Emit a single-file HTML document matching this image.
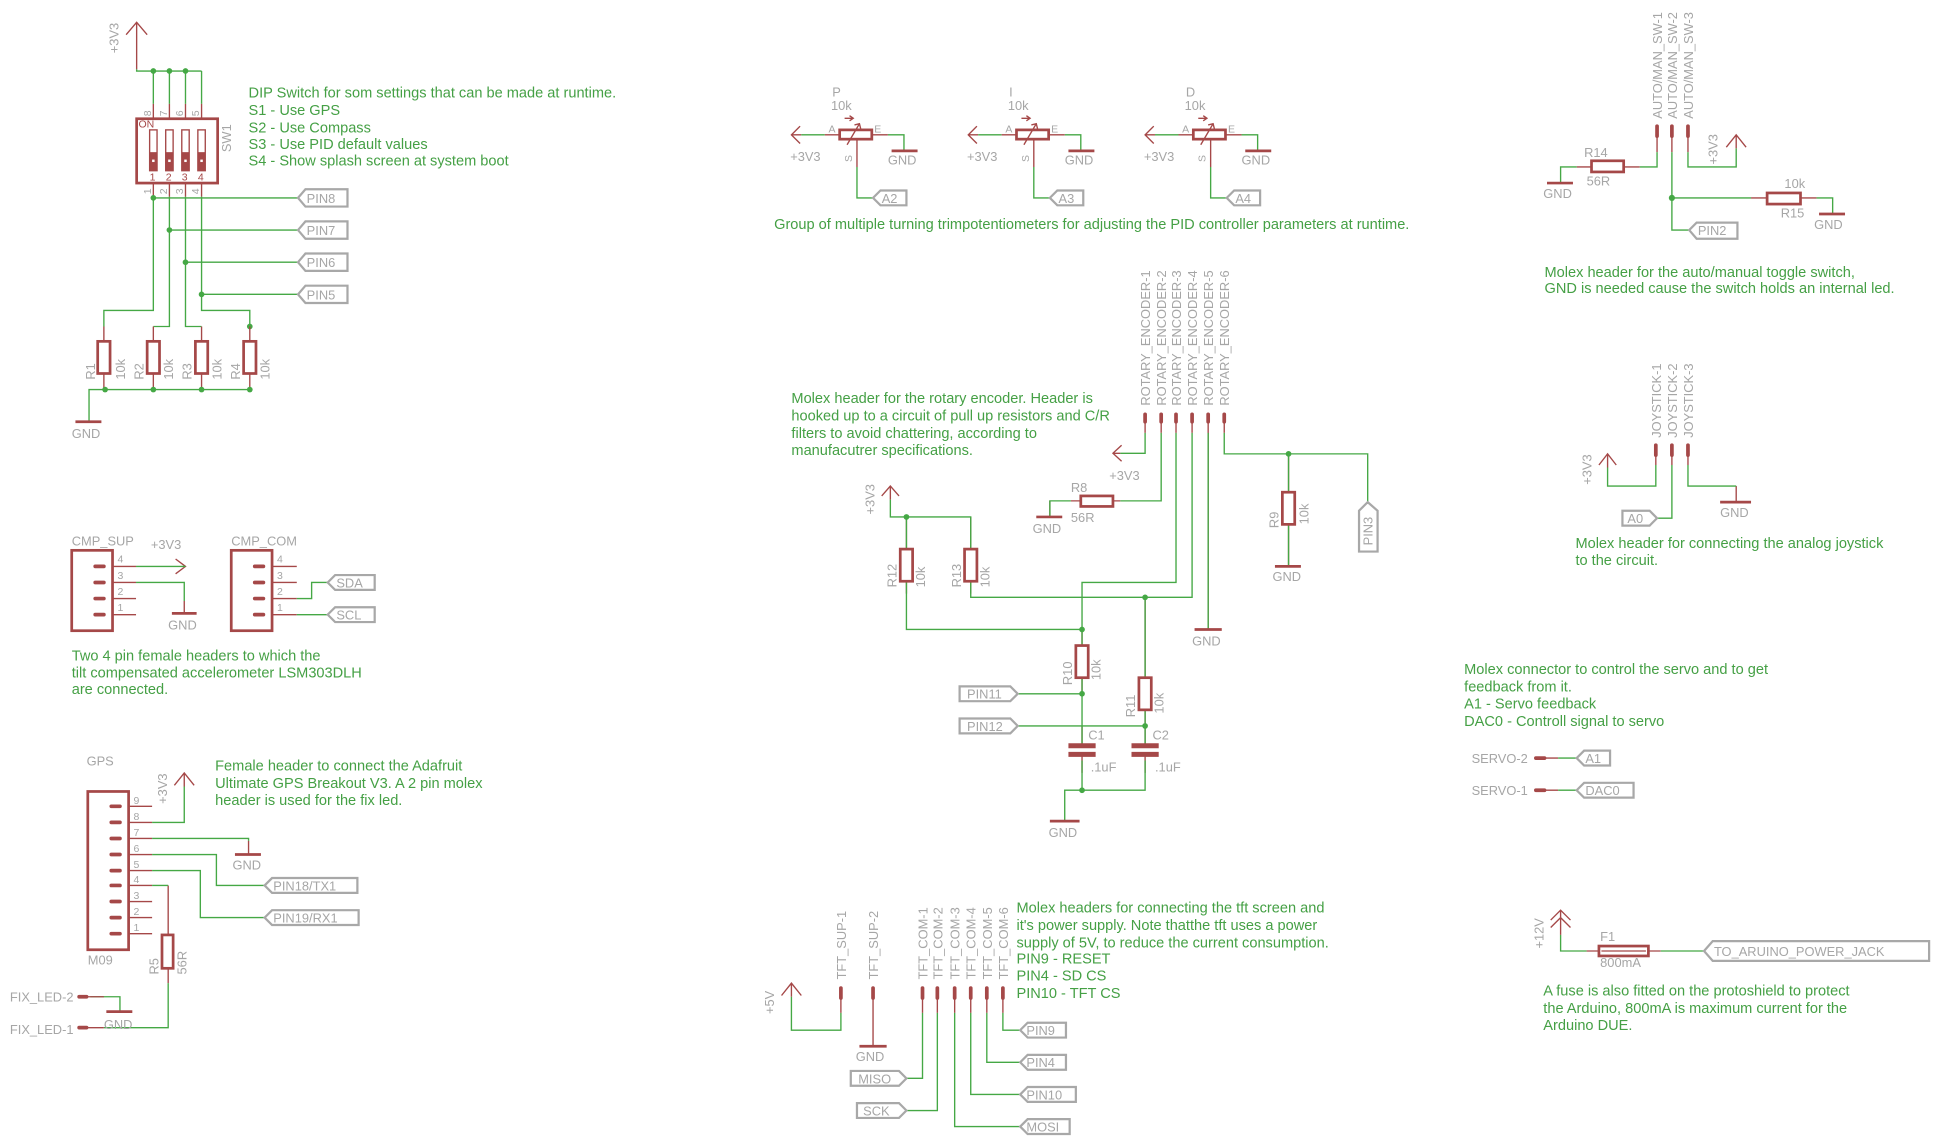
<!DOCTYPE html>
<html><head><meta charset="utf-8"><style>
html,body{margin:0;padding:0;background:#fff;width:1939px;height:1139px;overflow:hidden}
svg{display:block}
text{font-family:"Liberation Sans",Arial,sans-serif;font-size:10.4px;fill:#a6a6a6}
.c{fill:#45a045;font-size:11.8px}
.r{fill:#a54848}
.w{stroke:#45a845;stroke-width:1.1;fill:none}
.p{stroke:#a54848;stroke-width:1.1;fill:none}
.b{stroke:#a54848;stroke-width:2.2;fill:none}
.h{stroke:#a54848;stroke-width:3;stroke-linecap:round;fill:none}
.l{stroke:#a8a8a8;stroke-width:1.8;fill:none}
.j{fill:#45a845}
.s{font-size:8.5px}
</style></head><body>
<svg width="1939" height="1139" viewBox="0 0 1568 921" xmlns="http://www.w3.org/2000/svg">

<!-- ================= DIP SWITCH ================= -->
<path class="p" d="M110.5 18 V56 M102 28 L110.5 18 L119 28"/>
<text transform="translate(96,43) rotate(-90)">+3V3</text>
<path class="w" d="M110.5 56 V57.4 H163 M124 57.4 V84 M137 57.4 V84 M150 57.4 V84 M163 57.4 V84"/>
<path class="p" d="M124 84 V96 M137 84 V96 M150 84 V96 M163 84 V96"/>
<circle class="j" cx="124" cy="57.4" r="2.3"/><circle class="j" cx="137" cy="57.4" r="2.3"/><circle class="j" cx="150" cy="57.4" r="2.3"/>
<rect class="b" x="110.5" y="96" width="65.5" height="52"/>
<text class="r s" x="112" y="103">ON</text>
<g>
<rect class="p" x="121" y="105" width="6" height="33"/><rect x="121" y="123" width="6" height="15" fill="#a54848"/>
<rect class="p" x="134" y="105" width="6" height="33"/><rect x="134" y="123" width="6" height="15" fill="#a54848"/>
<rect class="p" x="147" y="105" width="6" height="33"/><rect x="147" y="123" width="6" height="15" fill="#a54848"/>
<rect class="p" x="160" y="105" width="6" height="33"/><rect x="160" y="123" width="6" height="15" fill="#a54848"/>
<rect x="123" y="129" width="2" height="2" fill="#fff"/><rect x="136" y="129" width="2" height="2" fill="#fff"/><rect x="149" y="129" width="2" height="2" fill="#fff"/><rect x="162" y="129" width="2" height="2" fill="#fff"/>
</g>
<text class="r s" x="121" y="146">1</text><text class="r s" x="134" y="146">2</text><text class="r s" x="147" y="146">3</text><text class="r s" x="160" y="146">4</text>
<text transform="translate(187,123) rotate(-90)">SW1</text>
<text class="s" transform="translate(122,94) rotate(-90)">8</text>
<text class="s" transform="translate(135,94) rotate(-90)">7</text>
<text class="s" transform="translate(148,94) rotate(-90)">6</text>
<text class="s" transform="translate(161,94) rotate(-90)">5</text>
<text class="s" transform="translate(122,157) rotate(-90)">1</text>
<text class="s" transform="translate(135,157) rotate(-90)">2</text>
<text class="s" transform="translate(148,157) rotate(-90)">3</text>
<text class="s" transform="translate(161,157) rotate(-90)">4</text>
<path class="p" d="M124 148 V159 M137 148 V159 M150 148 V159 M163 148 V159"/>
<path class="w" d="M124 159 V251 H84 V264 M137 159 V264 H124 M150 159 V264 H163 M163 159 V251 H202 V264 M124 160 H241 M137 186 H241 M150 212 H241 M163 238 H241"/>
<circle class="j" cx="124" cy="160" r="2.3"/><circle class="j" cx="137" cy="186" r="2.3"/><circle class="j" cx="150" cy="212" r="2.3"/><circle class="j" cx="163" cy="238" r="2.3"/><circle class="j" cx="202" cy="264" r="2.3"/>
<path class="l" d="M241 160 L247 153 H281 V167 H247 Z M241 186 L247 179 H281 V193 H247 Z M241 212 L247 205 H281 V219 H247 Z M241 238 L247 231 H281 V245 H247 Z"/>
<text x="248" y="164">PIN8</text><text x="248" y="190">PIN7</text><text x="248" y="216">PIN6</text><text x="248" y="242">PIN5</text>
<path class="p" d="M84 264 V276 M124 264 V276 M163 264 V276 M202 264 V276 M84 302 V315 M124 302 V315 M163 302 V315 M202 302 V315"/>
<rect class="b" x="79" y="276" width="10" height="26"/><rect class="b" x="119" y="276" width="10" height="26"/><rect class="b" x="158" y="276" width="10" height="26"/><rect class="b" x="197" y="276" width="10" height="26"/>
<text transform="translate(77,307) rotate(-90)">R1</text><text transform="translate(101,307) rotate(-90)">10k</text>
<text transform="translate(116,307) rotate(-90)">R2</text><text transform="translate(140,307) rotate(-90)">10k</text>
<text transform="translate(155,307) rotate(-90)">R3</text><text transform="translate(179,307) rotate(-90)">10k</text>
<text transform="translate(194,307) rotate(-90)">R4</text><text transform="translate(218,307) rotate(-90)">10k</text>
<path class="w" d="M72 341 V315 H202"/>
<circle class="j" cx="85" cy="315" r="2.3"/><circle class="j" cx="124" cy="315" r="2.3"/><circle class="j" cx="163" cy="315" r="2.3"/><circle class="j" cx="202" cy="315" r="2.3"/>
<path class="b" d="M61 341 H82"/><text x="58" y="354">GND</text>
<text class="c" x="201" y="79">DIP Switch for som settings that can be made at runtime.</text>
<text class="c" x="201" y="93">S1 - Use GPS</text>
<text class="c" x="201" y="107">S2 - Use Compass</text>
<text class="c" x="201" y="120.5">S3 - Use PID default values</text>
<text class="c" x="201" y="134">S4 - Show splash screen at system boot</text>

<!-- ================= TRIMPOTS ================= -->
<g id="pot">
<path class="p" d="M647 102 L640 109 L647 116 M640 109 H648"/>
<path class="w" d="M648 109 H667 M718 109 H731 V122 M693 135 V160 H706"/>
<path class="p" d="M667 109 H679 M705 109 H718 M693 112 V135 M685 117 L695 100 M691 101 L695 100 L696 104 M683 95.6 H690 M687 93.5 L690 95.6 L687 97.7"/>
<rect class="b" x="679" y="105" width="26" height="7.5"/>
<path class="b" d="M721 122 H742"/>
<text x="639" y="130">+3V3</text><text x="718" y="133">GND</text>
<text class="s" x="670" y="107">A</text><text class="s" x="707" y="107">E</text>
<text class="s" transform="translate(689,131) rotate(-90)">S</text>
<path class="l" d="M706 160 L712 154 H733 V166 H712 Z"/>
</g>
<text x="673" y="78">P</text><text x="672" y="89">10k</text><text x="713" y="164">A2</text>
<use href="#pot" transform="translate(143,0)"/>
<text x="816" y="78">I</text><text x="815" y="89">10k</text><text x="856" y="164">A3</text>
<use href="#pot" transform="translate(286,0)"/>
<text x="959" y="78">D</text><text x="958" y="89">10k</text><text x="999" y="164">A4</text>
<text class="c" x="626" y="185">Group of multiple turning trimpotentiometers for adjusting the PID controller parameters at runtime.</text>

<!-- ================= AUTO/MAN ================= -->
<text transform="translate(1344,96) rotate(-90)">AUTO/MAN_SW-1</text>
<text transform="translate(1356,96) rotate(-90)">AUTO/MAN_SW-2</text>
<text transform="translate(1369,96) rotate(-90)">AUTO/MAN_SW-3</text>
<path class="h" d="M1340 102 V110 M1352 102 V110 M1365 102 V110"/>
<path class="p" d="M1340 110 V123 M1352 110 V123 M1365 110 V123 M1326 135 H1313 M1287 135 H1275 M1416 160 H1429 M1456 160 H1469 M1396 119 L1404 109 L1412 119 M1404 109 V120"/>
<path class="w" d="M1340 123 V135 H1326 M1275 135 H1262 V148 M1352 123 V186 H1366 M1352 160 H1416 M1469 160 H1482 V173 M1365 123 V135 H1404 V120"/>
<rect class="b" x="1287" y="130" width="26" height="9"/><rect class="b" x="1429" y="156" width="27" height="9"/>
<path class="b" d="M1251 148 H1272 M1471 173 H1492"/>
<circle class="j" cx="1352" cy="160" r="2.5"/>
<text x="1281" y="127">R14</text><text x="1283" y="150">56R</text><text x="1248" y="160">GND</text>
<text x="1443" y="152">10k</text><text x="1440" y="176">R15</text><text x="1467" y="185">GND</text>
<text transform="translate(1389,133) rotate(-90)">+3V3</text>
<path class="l" d="M1366 186 L1372 180 H1405 V193 H1372 Z"/><text x="1373" y="190">PIN2</text>
<text class="c" x="1249" y="224">Molex header for the auto/manual toggle switch,</text>
<text class="c" x="1249" y="237">GND is needed cause the switch holds an internal led.</text>

<!-- ================= ROTARY ENCODER ================= -->
<text transform="translate(930,328) rotate(-90)">ROTARY_ENCODER-1</text>
<text transform="translate(943,328) rotate(-90)">ROTARY_ENCODER-2</text>
<text transform="translate(955,328) rotate(-90)">ROTARY_ENCODER-3</text>
<text transform="translate(968,328) rotate(-90)">ROTARY_ENCODER-4</text>
<text transform="translate(981,328) rotate(-90)">ROTARY_ENCODER-5</text>
<text transform="translate(994,328) rotate(-90)">ROTARY_ENCODER-6</text>
<path class="h" d="M926 335 V341 M939 335 V341 M951 335 V341 M964 335 V341 M977 335 V341 M990 335 V341"/>
<path class="p" d="M926 341 V350 M939 341 V350 M951 341 V350 M964 341 V350 M977 341 V350 M990 341 V350 M907 360 L900 366.5 L907 373 M900 366.5 H906 M874 405 H866 M900 405 H906 M713 401 L720 393 L727 401 M720 393 V404 M733 418 V444 M733 470 V480 M785 418 V444 M785 470 V480 M875 509 V522 M875 548 V561 M926 483 V548 M926 574 V587 M1042 367 V398 M1042 424 V458 M849 405 V418 M977 350 V509 M875 587 V603 M926 587 V603 M875 609 V625 M926 609 V625"/>
<path class="w" d="M926 350 V366.5 H906 M939 350 V405 H906 M866 405 H849 V418 M720 404 V418 H785 V444 M733 418 V444 M733 470 V509 H875 M785 470 V483 H964 V350 M951 350 V471 H875 V522 M875 548 V603 M926 483 V548 M926 574 V603 M823 561 H875 M823 587 H926 M875 615 V639 H926 V615 M875 639 H861 V664 M990 350 V367 H1106 V406 M1042 367 V398 M1042 424 V458 M977 350 V509"/>
<rect class="b" x="874" y="401" width="26" height="8.5"/>
<rect class="b" x="728" y="444" width="10" height="26"/><rect class="b" x="780" y="444" width="10" height="26"/>
<rect class="b" x="870" y="522" width="10" height="26"/><rect class="b" x="921" y="548" width="10" height="26"/>
<rect class="b" x="1037" y="398" width="10" height="26"/>
<path d="M864 601 H886 V605 H864 Z M864 608 H886 V612 H864 Z M915 601 H937 V605 H915 Z M915 608 H937 V612 H915 Z" fill="#a54848"/>
<path class="b" d="M838 418 H859 M966 509 H988 M1031 458 H1052 M849 664 H873"/>
<circle class="j" cx="733" cy="418" r="2.3"/><circle class="j" cx="875" cy="509" r="2.3"/><circle class="j" cx="926" cy="483" r="2.3"/>
<circle class="j" cx="875" cy="561" r="2.3"/><circle class="j" cx="926" cy="587" r="2.3"/><circle class="j" cx="875" cy="639" r="2.3"/><circle class="j" cx="1042" cy="367" r="2.3"/>
<text x="897" y="388">+3V3</text>
<text x="866" y="398">R8</text><text x="866" y="422">56R</text><text x="835" y="431">GND</text>
<text transform="translate(707,416) rotate(-90)">+3V3</text>
<text transform="translate(725,475) rotate(-90)">R12</text><text transform="translate(748,475) rotate(-90)">10k</text>
<text transform="translate(777,475) rotate(-90)">R13</text><text transform="translate(800,475) rotate(-90)">10k</text>
<text transform="translate(867,554) rotate(-90)">R10</text><text transform="translate(890,550) rotate(-90)">10k</text>
<text transform="translate(918,580) rotate(-90)">R11</text><text transform="translate(941,577) rotate(-90)">10k</text>
<text transform="translate(1034,427) rotate(-90)">R9</text><text transform="translate(1058,424) rotate(-90)">10k</text>
<text x="880" y="598">C1</text><text x="882" y="624">.1uF</text>
<text x="932" y="598">C2</text><text x="934" y="624">.1uF</text>
<text x="848" y="677">GND</text><text x="964" y="522">GND</text><text x="1029" y="470">GND</text>
<path class="l" d="M823 561 L817 555 H776 V567 H817 Z M823 587 L817 581 H776 V593 H817 Z M1106 406 L1114 413 V446 H1099 V413 Z"/>
<text x="782" y="565">PIN11</text><text x="782" y="591">PIN12</text>
<text transform="translate(1110,441) rotate(-90)">PIN3</text>
<text class="c" x="640" y="326">Molex header for the rotary encoder. Header is</text>
<text class="c" x="640" y="340">hooked up to a circuit of pull up resistors and C/R</text>
<text class="c" x="640" y="354">filters to avoid chattering, according to</text>
<text class="c" x="640" y="368">manufacutrer specifications.</text>

<!-- ================= JOYSTICK ================= -->
<text transform="translate(1343,354) rotate(-90)">JOYSTICK-1</text>
<text transform="translate(1356,354) rotate(-90)">JOYSTICK-2</text>
<text transform="translate(1369,354) rotate(-90)">JOYSTICK-3</text>
<path class="h" d="M1339 360 V368 M1352 360 V368 M1365 360 V368"/>
<path class="p" d="M1339 368 V376 M1352 368 V376 M1365 368 V376 M1293 376 L1300 367 L1307 376 M1300 367 V378 M1404 393 V406"/>
<path class="w" d="M1339 376 V393 H1300 V378 M1352 376 V419 H1340 M1365 376 V393 H1404"/>
<path class="b" d="M1391 406 H1416"/>
<text transform="translate(1287,392) rotate(-90)">+3V3</text>
<text x="1391" y="418">GND</text>
<path class="l" d="M1340 419 L1334 413 H1312 V425 H1334 Z"/><text x="1316" y="423">A0</text>
<text class="c" x="1274" y="443">Molex header for connecting the analog joystick</text>
<text class="c" x="1274" y="457">to the circuit.</text>

<!-- ================= SERVO ================= -->
<text class="c" x="1184" y="545">Molex connector to control the servo and to get</text>
<text class="c" x="1184" y="559">feedback from it.</text>
<text class="c" x="1184" y="573">A1 - Servo feedback</text>
<text class="c" x="1184" y="587">DAC0 - Controll signal to servo</text>
<text x="1190" y="617">SERVO-2</text><text x="1190" y="643">SERVO-1</text>
<path class="h" d="M1242 613 H1249 M1242 639 H1249"/>
<path class="p" d="M1249 613 H1260 M1249 639 H1260"/>
<path class="w" d="M1260 613 H1275 M1260 639 H1275"/>
<path class="l" d="M1275 613 L1281 607 H1302 V619 H1281 Z M1275 639 L1281 633 H1321 V645 H1281 Z"/>
<text x="1282" y="617">A1</text><text x="1282" y="643">DAC0</text>

<!-- ================= CMP ================= -->
<text x="58" y="441">CMP_SUP</text><text x="187" y="441">CMP_COM</text>
<rect class="b" x="58" y="445" width="33" height="65"/><rect class="b" x="187" y="445" width="33" height="65"/>
<path class="h" d="M77 458 H84 M77 471 H84 M77 484 H84 M77 497 H84 M206 458 H213 M206 471 H213 M206 484 H213 M206 497 H213"/>
<path class="p" d="M91 458 H110 M91 471 H110 M91 484 H110 M91 497 H110 M220 458 H240 M220 471 H240 M220 484 H240 M220 497 H240 M142 452 L150 458 L142 464 M149 486 V496"/>
<path class="w" d="M110 458 H150 M110 471 H149 V486 M240 484 H252 V471 H265 M240 497 H265"/>
<path class="b" d="M139 496 H159"/>
<text class="s" x="95" y="455">4</text><text class="s" x="95" y="468">3</text><text class="s" x="95" y="481">2</text><text class="s" x="95" y="494">1</text>
<text class="s" x="224" y="455">4</text><text class="s" x="224" y="468">3</text><text class="s" x="224" y="481">2</text><text class="s" x="224" y="494">1</text>
<text x="122" y="444">+3V3</text><text x="136" y="509">GND</text>
<path class="l" d="M265 471 L271 465 H303 V477 H271 Z M265 497 L271 491 H303 V503 H271 Z"/>
<text x="272" y="475">SDA</text><text x="272" y="501">SCL</text>
<text class="c" x="58" y="534">Two 4 pin female headers to which the</text>
<text class="c" x="58" y="548">tilt compensated accelerometer LSM303DLH</text>
<text class="c" x="58" y="561">are connected.</text>

<!-- ================= GPS ================= -->
<text x="70" y="619">GPS</text><text x="71" y="780">M09</text>
<rect class="b" x="71" y="640" width="33" height="128"/>
<path class="h" d="M90 652 H97 M90 665 H97 M90 678 H97 M90 691 H97 M90 704 H97 M90 716 H97 M90 729 H97 M90 742 H97 M90 755 H97"/>
<path class="p" d="M104 652 H123 M104 665 H123 M104 678 H123 M104 691 H123 M104 704 H123 M104 716 H123 M104 729 H123 M104 742 H123 M104 755 H123 M141 635 L149 625 L157 635 M149 625 V636 M201 680 V691 M136 716 V756 M136 783 V795"/>
<path class="w" d="M123 665 H149 V636 M123 678 H201 V680 M123 691 H175 V716 H214 M123 704 H162 V742 H214 M123 716 H136 M136 795 V831 H84 M73 806 H97 V818"/>
<rect class="b" x="131" y="756" width="9" height="27"/>
<path class="b" d="M190 691 H211 M86 818 H107"/>
<text class="s" x="108" y="650">9</text><text class="s" x="108" y="663">8</text><text class="s" x="108" y="676">7</text><text class="s" x="108" y="689">6</text><text class="s" x="108" y="702">5</text><text class="s" x="108" y="714">4</text><text class="s" x="108" y="727">3</text><text class="s" x="108" y="740">2</text><text class="s" x="108" y="753">1</text>
<text transform="translate(135,650) rotate(-90)">+3V3</text>
<text x="188" y="703">GND</text>
<path class="l" d="M214 716 L220 710 H289 V722 H220 Z M214 742 L220 736 H290 V748 H220 Z"/>
<text x="221" y="720">PIN18/TX1</text><text x="221" y="746">PIN19/RX1</text>
<text transform="translate(128,788) rotate(-90)">R5</text><text transform="translate(151,788) rotate(-90)">56R</text>
<text x="8" y="810">FIX_LED-2</text><text x="8" y="836">FIX_LED-1</text>
<path class="h" d="M64 806 H70 M64 831 H70"/>
<path class="p" d="M70 806 H84 M70 831 H84"/>
<text x="84" y="832">GND</text>
<text class="c" x="174" y="623">Female header to connect the Adafruit</text>
<text class="c" x="174" y="637">Ultimate GPS Breakout V3. A 2 pin molex</text>
<text class="c" x="174" y="651">header is used for the fix led.</text>

<!-- ================= TFT ================= -->
<text transform="translate(684,792) rotate(-90)">TFT_SUP-1</text>
<text transform="translate(710,792) rotate(-90)">TFT_SUP-2</text>
<text transform="translate(750,792) rotate(-90)">TFT_COM-1</text>
<text transform="translate(762,792) rotate(-90)">TFT_COM-2</text>
<text transform="translate(776,792) rotate(-90)">TFT_COM-3</text>
<text transform="translate(789,792) rotate(-90)">TFT_COM-4</text>
<text transform="translate(802,792) rotate(-90)">TFT_COM-5</text>
<text transform="translate(815,792) rotate(-90)">TFT_COM-6</text>
<path class="h" d="M680 799 V807 M706 799 V807 M746 799 V807 M758 799 V807 M772 799 V807 M785 799 V807 M798 799 V807 M811 799 V807"/>
<path class="p" d="M680 807 V819 M706 807 V846 M746 807 V819 M758 807 V819 M772 807 V819 M785 807 V819 M798 807 V819 M811 807 V819 M632 805 L640 795 L648 805 M640 795 V806"/>
<path class="w" d="M640 806 V833 H680 V819 M746 819 V872 H733 M758 819 V898 H733 M772 819 V911 H825 M785 819 V885 H825 M798 819 V859 H825 M811 819 V833 H825"/>
<path class="b" d="M695 846 H717"/>
<text transform="translate(626,820) rotate(-90)">+5V</text>
<text x="692" y="858">GND</text>
<path class="l" d="M733 872 L727 866 H688 V878 H727 Z M733 898 L727 892 H693 V904 H727 Z M825 833 L831 827 H862 V839 H831 Z M825 859 L831 853 H862 V865 H831 Z M825 885 L831 879 H870 V891 H831 Z M825 911 L831 905 H865 V917 H831 Z"/>
<text x="694" y="876">MISO</text><text x="698" y="902">SCK</text>
<text x="830" y="837">PIN9</text><text x="830" y="863">PIN4</text><text x="830" y="889">PIN10</text><text x="830" y="915">MOSI</text>
<text class="c" x="822" y="738">Molex headers for connecting the tft screen and</text>
<text class="c" x="822" y="752">it's power supply. Note thatthe tft uses a power</text>
<text class="c" x="822" y="766">supply of 5V, to reduce the current consumption.</text>
<text class="c" x="822" y="779">PIN9 - RESET</text>
<text class="c" x="822" y="793">PIN4 - SD CS</text>
<text class="c" x="822" y="807">PIN10 - TFT CS</text>

<!-- ================= FUSE ================= -->
<path class="p" d="M1254 744 L1262 736 L1270 744 M1254 750 L1262 742 L1270 750 M1262 736 V756 M1283 769 H1293 M1333 769 H1343"/>
<path class="w" d="M1262 756 V769 H1283 M1343 769 H1378"/>
<rect class="b" x="1293" y="765" width="40" height="8"/>
<path class="p" d="M1295 769 H1331"/>
<text transform="translate(1248,767) rotate(-90)">+12V</text>
<text x="1294" y="761">F1</text><text x="1294" y="782">800mA</text>
<path class="l" d="M1378 769 L1385 761 H1560 V777 H1385 Z"/>
<text x="1386" y="773">TO_ARUINO_POWER_JACK</text>
<text class="c" x="1248" y="805">A fuse is also fitted on the protoshield to protect</text>
<text class="c" x="1248" y="819">the Arduino, 800mA is maximum current for the</text>
<text class="c" x="1248" y="833">Arduino DUE.</text>
</svg>
</body></html>
